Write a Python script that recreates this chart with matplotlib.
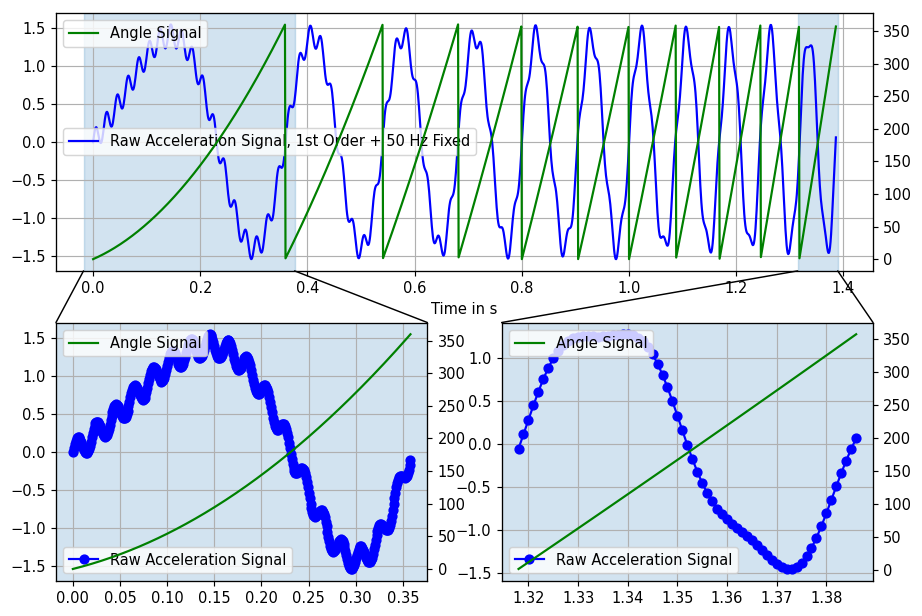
import numpy as np
import matplotlib
matplotlib.use("Agg")
import matplotlib.pyplot as plt
from matplotlib.patches import ConnectionPatch

# run-up test signal, parameters
fs = 1000             # samples per second (markers are 1 ms apart)
duration = 1.387      # s, last sample at 1.386 s (end of the 11th revolution)
speed_start = 1.0     # rev/s at t = 0
speed_ramp = 10.0     # rev/s^2, fits the sawtooth reset times
order_amp = 1.4       # amplitude of the 1st order
hum_freq = 50.0       # Hz, fixed frequency component
hum_amp = 0.15        # amplitude of the 50 Hz component

accel_ticks = [-1.5, -1.0, -0.5, 0.0, 0.5, 1.0, 1.5]
angle_ticks = [0, 50, 100, 150, 200, 250, 300, 350]
time_ticks = [0.0, 0.2, 0.4, 0.6, 0.8, 1.0, 1.2, 1.4]
first_rev_ticks = [0.00, 0.05, 0.10, 0.15, 0.20, 0.25, 0.30, 0.35]
last_rev_ticks = [1.32, 1.33, 1.34, 1.35, 1.36, 1.37, 1.38]

# Sampled signals
t = np.arange(0, duration, 1 / fs)
revs = speed_start * t + 0.5 * speed_ramp * t ** 2
angle = np.mod(revs, 1.0) * 360
accel = order_amp * np.sin(2 * np.pi * revs) + hum_amp * np.sin(2 * np.pi * hum_freq * t)

rev_index = np.floor(revs)
first = rev_index == 0
last = rev_index == rev_index.max()

dpi = 105
fig = plt.figure(figsize=(922 / dpi, 616 / dpi), dpi=dpi)
gs = fig.add_gridspec(2, 2, left=0.0607, right=0.9469, top=0.9794, bottom=0.0573,
                      hspace=0.2, wspace=0.2)
ax_top = fig.add_subplot(gs[0, :])
ax_left = fig.add_subplot(gs[1, 0])
ax_right = fig.add_subplot(gs[1, 1])

# Whole run-up
ax_top.plot(t, accel, 'b', label='Raw Acceleration Signal, 1st Order + 50 Hz Fixed')
ax_top.set_xticks(time_ticks)
ax_top.set_yticks(accel_ticks)
ax_top.grid(True)
ax_top.set_xlabel('Time in s')
ax_top.legend(loc='center left')
top_xlim = ax_top.get_xlim()
tw_top = ax_top.twinx()
tw_top.plot(t, angle, 'g', label='Angle Signal')
tw_top.set_yticks(angle_ticks)
tw_top.legend(loc='upper left')

# Zoomed revolutions
for ax, sel, ticks in ((ax_left, first, first_rev_ticks), (ax_right, last, last_rev_ticks)):
    ax.plot(t[sel], accel[sel], 'bo-', label='Raw Acceleration Signal')
    ax.set_xticks(ticks)
    ax.grid(True)
    ax.set_facecolor(matplotlib.colors.to_rgba('C0', 0.2))
    ax.legend(loc='lower left')
    tw = ax.twinx()
    tw.plot(t[sel], angle[sel], 'g', label='Angle Signal')
    tw.set_yticks(angle_ticks)
    tw.legend(loc='upper left')

    # mark the zoomed range on the top plot and connect it
    x0, x1 = ax.get_xlim()
    ax_top.axvspan(x0, x1, color='C0', alpha=0.2)
    for xa, xb in ((x0, 0), (x1, 1)):
        con = ConnectionPatch(xyA=(xa, 0), coordsA=ax_top.get_xaxis_transform(),
                              xyB=(xb, 1), coordsB=ax.transAxes, color='k', lw=1)
        fig.add_artist(con)

ax_top.set_xlim(top_xlim)

fig.savefig('out.png', dpi=dpi)
